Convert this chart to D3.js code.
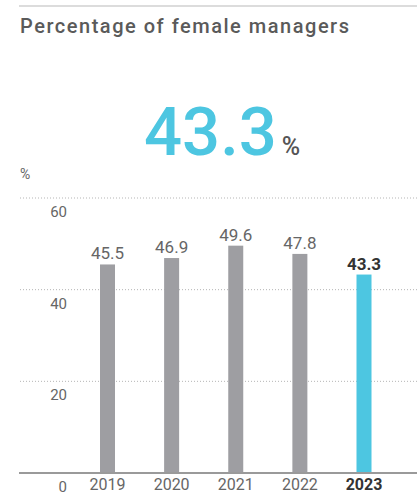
<!DOCTYPE html>
<html>
<head>
<meta charset="utf-8">
<script src="https://cdn.jsdelivr.net/npm/d3@7"></script>
<style>
  body { margin: 0; background: #fff; }
  text { font-family: Roboto, "DejaVu Sans", sans-serif; }
</style>
</head>
<body>
<div id="chart"></div>
<script>
// data
var years = ["2019", "2020", "2021", "2022", "2023"];
var values = [45.5, 46.9, 49.6, 47.8, 43.3];
var yTicks = [0, 20, 40, 60];
var highlight = "2023";

var width = 417, height = 495;

var svg = d3.select("#chart")
  .append("svg")
    .attr("width", width)
    .attr("height", height);

// top rule + title
svg.append("line")
    .attr("x1", 19).attr("x2", width)
    .attr("y1", 6).attr("y2", 6)
    .attr("stroke", "#dcdcdc")
    .attr("stroke-width", 2);

svg.append("text")
    .attr("x", 20).attr("y", 33)
    .attr("font-size", 20)
    .attr("font-weight", 500)
    .attr("fill", "#5a5a5a")
    .attr("textLength", 329)
    .attr("lengthAdjust", "spacing")
    .text("Percentage of female managers");

// big headline number
var big = svg.append("text")
    .attr("x", 144).attr("y", 155);
big.append("tspan")
    .attr("font-size", 67)
    .attr("font-weight", 500)
    .attr("fill", "#4dc6e1")
    .text(values[values.length - 1]);
big.append("tspan")
    .attr("dx", 5)
    .attr("font-size", 25)
    .attr("font-weight", 500)
    .attr("fill", "#555")
    .text("%");

// scales
var x = d3.scalePoint()
    .domain(years)
    .range([107.5, 364]);

var y = d3.scaleLinear()
    .domain([0, 60])
    .range([473, 198]);

svg.append("text")
    .attr("x", 20).attr("y", 179)
    .attr("font-size", 14)
    .attr("fill", "#666")
    .text("%");

// grid lines
svg.selectAll(".grid")
    .data(yTicks.filter(function(d) { return d > 0; }))
    .enter()
    .append("line")
      .attr("class", "grid")
      .attr("x1", 20).attr("x2", width)
      .attr("y1", function(d) { return y(d); })
      .attr("y2", function(d) { return y(d); })
      .attr("stroke", "#b5b5b5")
      .attr("stroke-width", 1)
      .attr("stroke-dasharray", "1,2");

// y tick labels (sit below their line)
svg.selectAll(".ylab")
    .data(yTicks)
    .enter()
    .append("text")
      .attr("x", 67)
      .attr("y", function(d) { return y(d) + 19; })
      .attr("text-anchor", "end")
      .attr("font-size", 15)
      .attr("fill", "#666")
      .text(function(d) { return d; });

var bw = 15;

svg.selectAll(".bar")
    .data(values)
    .enter()
    .append("rect")
      .attr("x", function(d, i) { return x(years[i]) - bw / 2; })
      .attr("y", function(d) { return y(d); })
      .attr("width", bw)
      .attr("height", function(d) { return y(0) - y(d); })
      .attr("fill", function(d, i) { return years[i] === highlight ? "#4dc6e1" : "#9e9ea2"; });

// baseline
svg.append("line")
    .attr("x1", 19).attr("x2", width)
    .attr("y1", y(0)).attr("y2", y(0))
    .attr("stroke", "#9a9a9a")
    .attr("stroke-width", 2);

// value labels
svg.selectAll(".val")
    .data(values)
    .enter()
    .append("text")
      .attr("x", function(d, i) { return x(years[i]); })
      .attr("y", function(d) { return y(d) - 5; })
      .attr("text-anchor", "middle")
      .attr("font-size", 17)
      .attr("font-weight", function(d, i) { return years[i] === highlight ? 700 : 400; })
      .attr("fill", function(d, i) { return years[i] === highlight ? "#333" : "#666"; })
      .text(function(d) { return d.toFixed(1); });

// x labels
svg.selectAll(".xlab")
    .data(years)
    .enter()
    .append("text")
      .attr("x", function(d) { return x(d); })
      .attr("y", 490)
      .attr("text-anchor", "middle")
      .attr("font-size", 16)
      .attr("font-weight", function(d) { return d === highlight ? 700 : 400; })
      .attr("fill", function(d) { return d === highlight ? "#333" : "#666"; })
      .text(function(d) { return d; });
</script>
</body>
</html>
